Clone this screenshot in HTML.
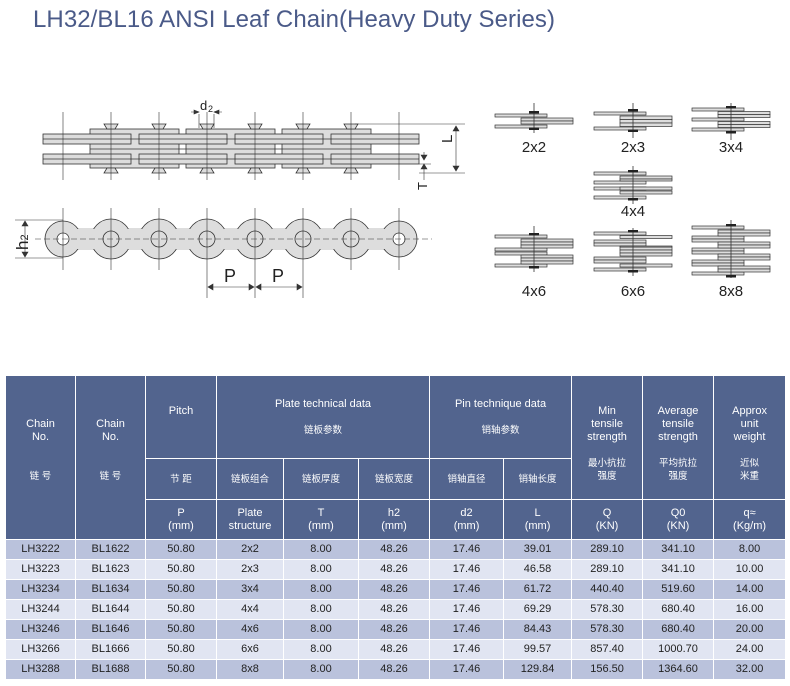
<!DOCTYPE html>
<html><head><meta charset="utf-8"><style>
body{margin:0;width:790px;height:686px;background:#fff;position:relative;overflow:hidden;font-family:"Liberation Sans","Noto Sans CJK SC",sans-serif}
svg{position:absolute;left:0;top:0}
table{position:absolute;left:5px;top:375px;border-collapse:collapse;table-layout:fixed;width:780px}
td{border:1px solid #fff;text-align:center;font-size:11px;padding:0;line-height:13px}
.h{background:#52648e;color:#fff}
.cn{font-size:9.5px}
tr.a td{background:#bac2dc;color:#222;height:19px}
tr.b td{background:#e1e5f2;color:#222;height:19px}
</style></head><body>
<svg width="790" height="370" viewBox="0 0 790 370">
<text x="33" y="27" font-size="24" fill="#4a5a88" textLength="522" font-family="Liberation Sans,sans-serif">LH32/BL16 ANSI Leaf Chain(Heavy Duty Series)</text>
<g stroke="#333" stroke-width="0.8" fill="#ddd">
<rect x="90" y="129" width="89" height="39"/><rect x="186" y="129" width="89" height="39"/><rect x="282" y="129" width="89" height="39"/>
<line x1="90" y1="149" x2="371" y2="149"/>
<rect x="43" y="134" width="88" height="10"/><rect x="139" y="134" width="88" height="10"/><rect x="235" y="134" width="88" height="10"/><rect x="331" y="134" width="88" height="10"/>
<rect x="43" y="154" width="88" height="10"/><rect x="139" y="154" width="88" height="10"/><rect x="235" y="154" width="88" height="10"/><rect x="331" y="154" width="88" height="10"/>
<line x1="43" y1="139" x2="419" y2="139"/><line x1="43" y1="159" x2="419" y2="159"/>
<path d="M104 124h14l-3 5h-8zM152 124h14l-3 5h-8zM200 124h14l-3 5h-8zM248 124h14l-3 5h-8zM296 124h14l-3 5h-8zM344 124h14l-3 5h-8z"/>
<path d="M104 173h14l-3 -5h-8zM152 173h14l-3 -5h-8zM200 173h14l-3 -5h-8zM248 173h14l-3 -5h-8zM296 173h14l-3 -5h-8zM344 173h14l-3 -5h-8z"/>
</g>
<g stroke="#333" stroke-width="0.6">
<path d="M63 112v68M111 112v68M159 112v68M207 112v68M255 112v68M303 112v68M351 112v68M399 112v68"/>
<path d="M199 114v14M214 114v14M191 112h8M222 112h-8M355 124h110M419 173h46M456 126v45M424 152v8M419 164h12"/>
<path d="M453 131l3-5 3 5zM453 166l3 5 3-5zM421 155l3 5 3-5zM421 169l3-5 3 5zM194 110l5 2-5 2zM219 110l-5 2 5 2z" fill="#333"/>
<path d="M424 168v12"/>
</g>
<text x="200" y="110" font-size="13" fill="#222">d</text><text x="208" y="112" font-size="9" fill="#222">2</text>
<text x="452" y="153" font-size="15" fill="#222" transform="rotate(-90 447 148)">L</text>
<text x="417" y="190" font-size="13" fill="#222" transform="rotate(-90 422 185)">T</text>
<g>
<rect x="63" y="228" width="336" height="22" fill="#ddd"/>
<g fill="#ddd" stroke="#333" stroke-width="0.8">
<circle cx="63" cy="239" r="18"/><circle cx="399" cy="239" r="18"/>
<circle cx="111" cy="239" r="20"/><circle cx="159" cy="239" r="20"/><circle cx="207" cy="239" r="20"/><circle cx="255" cy="239" r="20"/><circle cx="303" cy="239" r="20"/><circle cx="351" cy="239" r="20"/>
</g>
<rect x="66" y="229" width="330" height="20" fill="#ddd"/>
<g fill="#fff" stroke="#333" stroke-width="0.8"><circle cx="63" cy="239" r="6"/><circle cx="399" cy="239" r="6"/></g>
<g fill="#ddd" stroke="#333" stroke-width="0.8"><circle cx="111" cy="239" r="8"/><circle cx="159" cy="239" r="8"/><circle cx="207" cy="239" r="8"/><circle cx="255" cy="239" r="8"/><circle cx="303" cy="239" r="8"/><circle cx="351" cy="239" r="8"/></g>
<g stroke="#333" stroke-width="0.6">
<path d="M35 239H432" stroke-dasharray="6 3"/>
<path d="M63 208v62M111 208v62M159 208v62M207 208v90M255 208v90M303 208v90M351 208v62M399 208v62"/>
<path d="M15 220h48M15 258h48M25 222v34M209 287h44M257 287h44"/>
<path d="M22 226l3-5 3 5zM22 252l3 5 3-5zM213 284l-5 3 5 3zM249 284l5 3-5 3zM261 284l-5 3 5 3zM297 284l5 3-5 3z" fill="#333"/>
</g>
<text x="224" y="282" font-size="18" fill="#222">P</text><text x="272" y="282" font-size="18" fill="#222">P</text>
<text x="8" y="250" font-size="17" fill="#222" transform="rotate(-90 18 240)">h<tspan font-size="11">2</tspan></text>
</g>
<g stroke="#333" stroke-width="0.7" fill="#ddd">
<rect x="495" y="114" width="52" height="3"/><rect x="495" y="125" width="52" height="3"/><rect x="521" y="118" width="52" height="3"/><rect x="521" y="121" width="52" height="3"/>
<rect x="594" y="112" width="52" height="3"/><rect x="594" y="127" width="52" height="3"/><rect x="620" y="116" width="52" height="3.5"/><rect x="620" y="119.5" width="52" height="3.5"/><rect x="620" y="123" width="52" height="3.5"/>
<rect x="692" y="108" width="52" height="3"/><rect x="692" y="118" width="52" height="3"/><rect x="692" y="128" width="52" height="3"/><rect x="718" y="111.5" width="52" height="3"/><rect x="718" y="114.5" width="52" height="3"/><rect x="718" y="121.5" width="52" height="3"/><rect x="718" y="124.5" width="52" height="3"/>
<rect x="594" y="172" width="52" height="3"/><rect x="594" y="181" width="52" height="3"/><rect x="594" y="187" width="52" height="3"/><rect x="594" y="196" width="52" height="3"/><rect x="620" y="176" width="52" height="3"/><rect x="620" y="179" width="52" height="2"/><rect x="620" y="187" width="52" height="3"/><rect x="620" y="191" width="52" height="3"/>
<rect x="495" y="235" width="52" height="3"/><rect x="495" y="248" width="52" height="3"/><rect x="495" y="252" width="52" height="3"/><rect x="495" y="264" width="52" height="3"/>
<rect x="521" y="239" width="52" height="3"/><rect x="521" y="242" width="52" height="3"/><rect x="521" y="245" width="52" height="3"/><rect x="521" y="255" width="52" height="3"/><rect x="521" y="258" width="52" height="3"/><rect x="521" y="261" width="52" height="3"/>
<rect x="594" y="232" width="52" height="3"/><rect x="594" y="240" width="52" height="3"/><rect x="594" y="243" width="52" height="3"/><rect x="594" y="257" width="52" height="3"/><rect x="594" y="260" width="52" height="3"/><rect x="594" y="268" width="52" height="3"/>
<rect x="620" y="235.5" width="52" height="3"/><rect x="620" y="247" width="52" height="3"/><rect x="620" y="250" width="52" height="3"/><rect x="620" y="253" width="52" height="3"/><rect x="620" y="264" width="52" height="3"/><rect x="620" y="246" width="52" height="1"/>
<rect x="692" y="226" width="52" height="3"/><rect x="692" y="236" width="52" height="3"/><rect x="692" y="239" width="52" height="3"/><rect x="692" y="248" width="52" height="3"/><rect x="692" y="251" width="52" height="3"/><rect x="692" y="260" width="52" height="3"/><rect x="692" y="263" width="52" height="3"/><rect x="692" y="272" width="52" height="3"/>
<rect x="718" y="230" width="52" height="3"/><rect x="718" y="233" width="52" height="3"/><rect x="718" y="242" width="52" height="3"/><rect x="718" y="245" width="52" height="3"/><rect x="718" y="254" width="52" height="3"/><rect x="718" y="257" width="52" height="3"/><rect x="718" y="266" width="52" height="3"/><rect x="718" y="269" width="52" height="3"/>
</g>
<g stroke="#333" stroke-width="0.8">
<path d="M534 103v30M633 103v35M731 103v37M633 166v38M534 226v46M633 228v48M731 220v58"/>
</g>
<g fill="#222">
<rect x="529" y="111" width="10" height="2.5"/><rect x="529" y="127.5" width="10" height="2.5"/>
<rect x="628" y="109" width="10" height="2.5"/><rect x="628" y="129.5" width="10" height="2.5"/>
<rect x="726" y="106" width="10" height="2.5"/><rect x="726" y="131" width="10" height="2.5"/>
<rect x="628" y="170" width="10" height="2.5"/><rect x="628" y="198" width="10" height="2.5"/>
<rect x="529" y="233" width="10" height="2.5"/><rect x="529" y="266" width="10" height="2.5"/>
<rect x="628" y="230" width="10" height="2.5"/><rect x="628" y="270" width="10" height="2.5"/>
<rect x="726" y="224" width="10" height="2.5"/><rect x="726" y="275" width="10" height="2.5"/>
</g>
<g font-size="15" fill="#222" text-anchor="middle">
<text x="534" y="152">2x2</text><text x="633" y="152">2x3</text><text x="731" y="152">3x4</text>
<text x="633" y="216">4x4</text><text x="534" y="296">4x6</text><text x="633" y="296">6x6</text><text x="731" y="296">8x8</text>
</g>
</svg>
<table>
<colgroup><col style="width:70px"><col style="width:70px"><col style="width:71px"><col style="width:67px"><col style="width:75px"><col style="width:71px"><col style="width:74px"><col style="width:68px"><col style="width:71px"><col style="width:71px"><col style="width:72px"></colgroup>
<tr class="h" style="height:83px"><td class="h" rowspan="3" style="vertical-align:top;padding-top:42px">Chain<br>No.<br><br><br><span class="cn">链 号</span></td><td class="h" rowspan="3" style="vertical-align:top;padding-top:42px">Chain<br>No.<br><br><br><span class="cn">链 号</span></td><td class="h" style="vertical-align:top;padding-top:29px">Pitch</td><td class="h" colspan="3">Plate technical data<br><br><span class="cn">链板参数</span></td><td class="h" colspan="2">Pin technique data<br><br><span class="cn">销轴参数</span></td><td class="h" rowspan="2" style="vertical-align:top;padding-top:29px">Min<br>tensile<br>strength<br><br><span class="cn">最小抗拉<br>强度</span></td><td class="h" rowspan="2" style="vertical-align:top;padding-top:29px">Average<br>tensile<br>strength<br><br><span class="cn">平均抗拉<br>强度</span></td><td class="h" rowspan="2" style="vertical-align:top;padding-top:29px">Approx<br>unit<br>weight<br><br><span class="cn">近似<br>米重</span></td></tr>
<tr style="height:41px"><td class="h cn">节 距</td><td class="h cn">链板组合</td><td class="h cn">链板厚度</td><td class="h cn">链板宽度</td><td class="h cn">销轴直径</td><td class="h cn">销轴长度</td></tr>
<tr style="height:40px"><td class="h">P<br>(mm)</td><td class="h">Plate<br>structure</td><td class="h">T<br>(mm)</td><td class="h">h2<br>(mm)</td><td class="h">d2<br>(mm)</td><td class="h">L<br>(mm)</td><td class="h">Q<br>(KN)</td><td class="h">Q0<br>(KN)</td><td class="h">q≈<br>(Kg/m)</td></tr>
<tr class="a"><td>LH3222</td><td>BL1622</td><td>50.80</td><td>2x2</td><td>8.00</td><td>48.26</td><td>17.46</td><td>39.01</td><td>289.10</td><td>341.10</td><td>8.00</td></tr>
<tr class="b"><td>LH3223</td><td>BL1623</td><td>50.80</td><td>2x3</td><td>8.00</td><td>48.26</td><td>17.46</td><td>46.58</td><td>289.10</td><td>341.10</td><td>10.00</td></tr>
<tr class="a"><td>LH3234</td><td>BL1634</td><td>50.80</td><td>3x4</td><td>8.00</td><td>48.26</td><td>17.46</td><td>61.72</td><td>440.40</td><td>519.60</td><td>14.00</td></tr>
<tr class="b"><td>LH3244</td><td>BL1644</td><td>50.80</td><td>4x4</td><td>8.00</td><td>48.26</td><td>17.46</td><td>69.29</td><td>578.30</td><td>680.40</td><td>16.00</td></tr>
<tr class="a"><td>LH3246</td><td>BL1646</td><td>50.80</td><td>4x6</td><td>8.00</td><td>48.26</td><td>17.46</td><td>84.43</td><td>578.30</td><td>680.40</td><td>20.00</td></tr>
<tr class="b"><td>LH3266</td><td>BL1666</td><td>50.80</td><td>6x6</td><td>8.00</td><td>48.26</td><td>17.46</td><td>99.57</td><td>857.40</td><td>1000.70</td><td>24.00</td></tr>
<tr class="a"><td>LH3288</td><td>BL1688</td><td>50.80</td><td>8x8</td><td>8.00</td><td>48.26</td><td>17.46</td><td>129.84</td><td>156.50</td><td>1364.60</td><td>32.00</td></tr>
</table>
</body></html>
